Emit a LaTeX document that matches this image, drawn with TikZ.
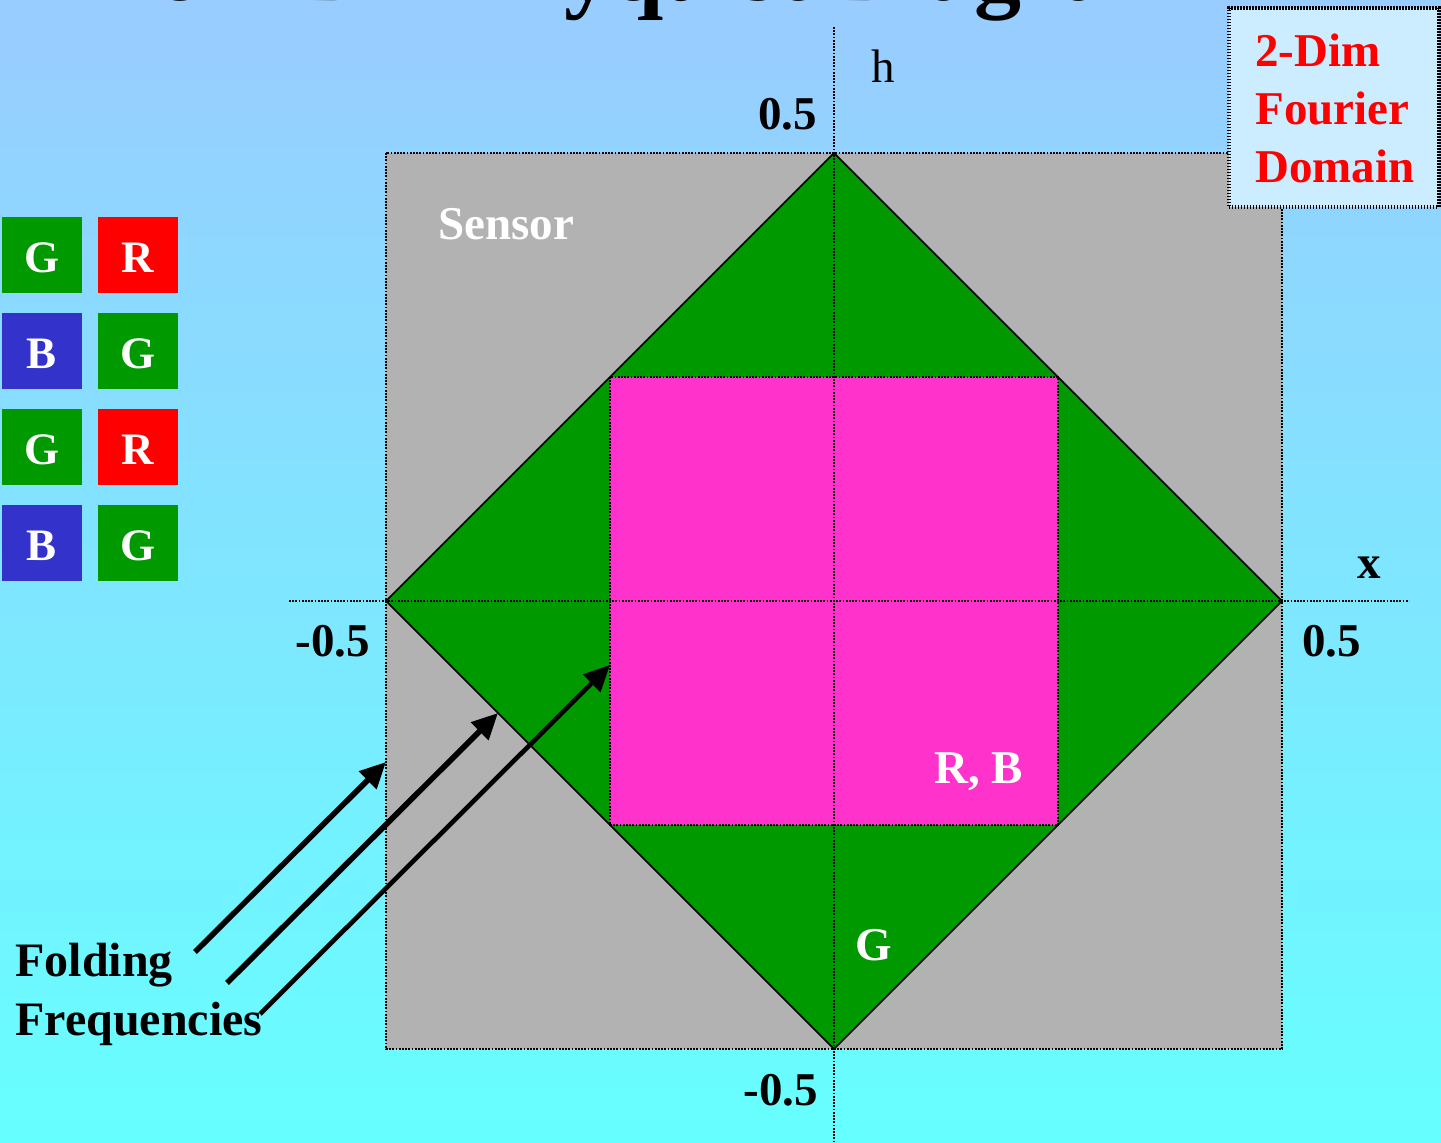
\documentclass[tikz,border=0pt]{standalone}
\usepackage{fontspec}
\setmainfont{Liberation Serif}
\usetikzlibrary{arrows.meta}
\definecolor{bgtop}{RGB}{153,204,255}
\definecolor{bgbot}{RGB}{102,255,255}
\definecolor{dgreen}{RGB}{0,153,0}
\definecolor{sensorgray}{RGB}{178,178,178}
\definecolor{rbpink}{RGB}{255,51,204}
\definecolor{bred}{RGB}{255,0,0}
\definecolor{bblue}{RGB}{51,51,204}
\definecolor{boxfill}{RGB}{204,236,255}
\tikzset{
  dotline/.style={line width=1.1pt, dash pattern=on 0.9pt off 0.7pt},
  lbl/.style={anchor=base west, inner sep=0pt, font=\fontsize{23.5}{28}\selectfont\bfseries},
  wlbl/.style={lbl, text=white},
  cell/.style={minimum width=40pt, minimum height=38pt, inner sep=0pt},
  celltxt/.style={anchor=base, inner sep=0pt, text=white, font=\fontsize{22.5}{27}\selectfont\bfseries},
  farrow/.style={line width=2.8pt, -{Triangle[length=13pt,width=12pt]}},
}
\begin{document}
\begin{tikzpicture}[x=0.5pt,y=-0.5pt]
\useasboundingbox (0,0) rectangle (1441,1143);
\shade[top color=bgtop, bottom color=bgbot] (0,0) rectangle (1441,1143);
% title (cut off at top, as in the reference)
\node[anchor=base, inner sep=0pt, font=\fontsize{47}{50}\selectfont\bfseries] (title) at (615,1) {The 2-Dim Nyquist Diagram};
% sensor square, diamond, R/B square
\fill[sensorgray] (386,153) rectangle (1282,1049);
\fill[dgreen] (834,153) -- (1282,601) -- (834,1049) -- (386,601) -- cycle;
\draw[line width=0.8pt] (834,153) -- (1282,601) -- (834,1049) -- (386,601) -- cycle;
\fill[rbpink] (610,377) rectangle (1058,825);
\draw[dotline] (610,377) rectangle (1058,825);
\draw[dotline] (386,153) rectangle (1282,1049);
% axes
\draw[dotline] (834,27) -- (834,1143);
\draw[dotline] (289,601) -- (1409,601);
% axis labels
\node[lbl] (top05) at (758,130) {0.5};
\node[lbl, font=\fontsize{23.5}{28}\selectfont] (hlab) at (871,83) {h};
\node[lbl] (xlab) at (1357,579) {x};
\node[lbl] (right05) at (1302,657) {0.5};
\node[lbl] (left05) at (295,657) {-0.5};
\node[lbl] (bot05) at (743,1105) {-0.5};
% region labels
\node[wlbl] (sensor) at (438,240) {Sensor};
\node[wlbl] (rb) at (934,784) {R, B};
\node[wlbl] (glab) at (855,960) {G};
% Bayer pattern
\node[cell, fill=dgreen] (c11) at (42,255) {};
\node[cell, fill=bred] (c12) at (138,255) {};
\node[cell, fill=bblue] (c21) at (42,351) {};
\node[cell, fill=dgreen] (c22) at (138,351) {};
\node[cell, fill=dgreen] (c31) at (42,447) {};
\node[cell, fill=bred] (c32) at (138,447) {};
\node[cell, fill=bblue] (c41) at (42,543) {};
\node[cell, fill=dgreen] (c42) at (138,543) {};
\node[celltxt] (t11) at (42,273) {G};
\node[celltxt] (t12) at (138,273) {R};
\node[celltxt] (t21) at (42,369) {B};
\node[celltxt] (t22) at (138,369) {G};
\node[celltxt] (t31) at (42,465) {G};
\node[celltxt] (t32) at (138,465) {R};
\node[celltxt] (t41) at (42,561) {B};
\node[celltxt] (t42) at (138,561) {G};
% Fourier domain box
\node[draw, fill=boxfill, line width=2pt, dash pattern=on 0.75pt off 0.75pt,
      minimum width=105pt, minimum height=99.5pt, inner sep=0pt] (fbox) at (1333.5,107.5) {};
\node[lbl, text=bred] (f1) at (1255,67) {2-Dim};
\node[lbl, text=bred] (f2) at (1255,125) {Fourier};
\node[lbl, text=bred] (f3) at (1255,183) {Domain};
% folding frequencies
\node[lbl, font=\fontsize{24}{28}\selectfont\bfseries] (fold) at (15,977) {Folding};
\node[lbl, font=\fontsize{24}{28}\selectfont\bfseries] (freq) at (15,1035) {Frequencies};
\coordinate (a1s) at (195,952);
\coordinate (a1e) at (386,762);
\coordinate (a2s) at (227,983);
\coordinate (a2e) at (498,713);
\coordinate (a3s) at (260,1014);
\coordinate (a3e) at (610,665);
\draw[farrow] (a1s) -- (a1e);
\draw[farrow] (a2s) -- (a2e);
\draw[farrow, line width=2.3pt] (a3s) -- (a3e);
\end{tikzpicture}
\end{document}
